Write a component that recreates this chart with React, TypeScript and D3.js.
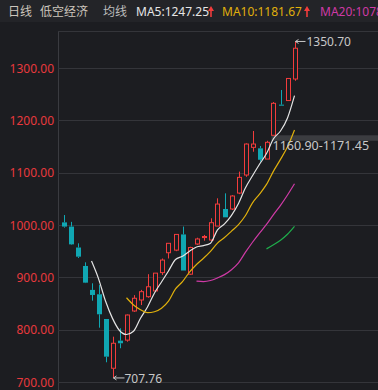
import React from "react";
import * as d3 from "d3";

const opens = [1005, 997, 957, 921.7, 876, 867.6, 820.4, 726.3, 779, 780, 835.7, 856.7, 863, 874, 909, 947, 952, 982, 906, 963.7, 976, 971.3, 998, 1030.6, 1030.6, 1061, 1095.5, 1148.4, 1146.5, 1126, 1171.45, 1230, 1237.8, 1279];
const highs = [1019, 1006, 965, 928.7, 888.6, 885.4, 820.4, 786.6, 802.7, 829, 866, 876, 906, 908, 936, 965, 982, 997, 958.5, 975.7, 981, 1012.8, 1051, 1060.5, 1057, 1102, 1156, 1179.6, 1151, 1160.9, 1235, 1258, 1280, 1350.7];
const lows = [995, 962, 937, 889, 855.4, 803.8, 737.7, 707.76, 764.5, 777, 834, 847, 861, 873, 904.5, 936, 950, 913, 904.5, 962, 970, 969.4, 998, 1014.7, 1028.6, 1059, 1092, 1140, 1121, 1126, 1171.45, 1228, 1237, 1275.6];
const closes = [997, 963, 939.5, 889.8, 866.3, 829.4, 748.4, 774, 774, 828, 860, 872.6, 882, 908, 933, 965, 982, 913, 957, 973.3, 978, 1004.4, 1040, 1014.7, 1055.4, 1091, 1154.7, 1154.7, 1124.65, 1158, 1232.5, 1228, 1280, 1337.75];
const yTicks = [700, 800, 900, 1000, 1100, 1200, 1300];
const maPeriods = [5, 10, 20, 30];
const maColors = ["#e4e4e4", "#e0b00c", "#cf3aa6", "#1fae4c"];
const gapLow = 1160.9;
const gapHigh = 1171.45;
const gapLabel = "1160.90-1171.45";
const maxLabel = "1350.70";
const minLabel = "707.76";

const W = 378;
const H = 390;
const RED = "#f23c3c";
const TEAL = "#10a7b3";
const FONT = "'Noto Sans', 'Noto Sans CJK SC', sans-serif";

export default function App() {
  const n = closes.length;
  const x = d3.scaleLinear().domain([0, n - 1]).range([63.5, 294.5]);
  const y = d3.scaleLinear().domain([700, 1300]).range([382, 68]);

  const ma = (p: number) =>
    closes.map((_, i) => (i < p - 1 ? null : d3.mean(closes.slice(i - p + 1, i + 1)) as number));

  const line = d3
    .line<number | null>()
    .defined((d) => d !== null)
    .x((_, i) => x(i))
    .y((d) => y(d as number))
    .curve(d3.curveMonotoneX);

  const maVals = maPeriods.map((p) => ma(p));
  const last = (arr: (number | null)[]) => arr[arr.length - 1] as number;

  const iMax = highs.indexOf(d3.max(highs) as number);
  const iMin = lows.indexOf(d3.min(lows) as number);
  const iGap = 30;

  const arrowUp = (cx: number) => (
    <g>
      <line x1={cx} x2={cx} y1={17} y2={9} stroke={RED} strokeWidth={1.6} />
      <path d={`M${cx - 3},${11} L${cx},${6} L${cx + 3},${11} Z`} fill={RED} />
    </g>
  );

  return (
    <svg
      width={W}
      height={H}
      style={{ position: "absolute", left: 0, top: 0, background: "#1c1d21" }}
      fontFamily={FONT}
    >
      <rect x={0} y={0} width={W} height={22} fill="#232428" />
      {/* header */}
      <text x={8} y={16} fontSize={12} fill="#cdc6bd">日线</text>
      <text x={40} y={16} fontSize={12} fill="#cdc6bd">低空经济</text>
      <text x={103} y={16} fontSize={12} fill="#bdbdbd">均线</text>
      <text x={136} y={16} fontSize={12} fill="#e6e6e6">{`MA5:${last(maVals[0]).toFixed(2)}`}</text>
      {arrowUp(211)}
      <text x={222} y={16} fontSize={12} fill="#e0b00c">{`MA10:${last(maVals[1]).toFixed(2)}`}</text>
      {arrowUp(307)}
      <text x={320} y={16} fontSize={12} fill="#cf3aa6">{`MA20:${last(maVals[2]).toFixed(2)}`}</text>

      {/* frame */}
      <line x1={58.5} x2={58.5} y1={31} y2={H} stroke="#3a3b40" />
      <line x1={58} x2={W} y1={31.5} y2={31.5} stroke="#34353a" />
      {yTicks.map((t) => (
        <g key={t}>
          <line x1={58} x2={W} y1={Math.round(y(t)) + 0.5} y2={Math.round(y(t)) + 0.5} stroke="#34353a" />
          <text x={54} y={y(t) + 4.5} fontSize={12} textAnchor="end" fill="#e8393d">
            {t.toFixed(2)}
          </text>
        </g>
      ))}

      {/* gap band */}
      <rect x={x(iGap) - 2} y={y(gapHigh)} width={W - x(iGap) + 2} height={y(gapLow) - y(gapHigh)} fill="#3b3c40" />

      {/* candles */}
      {closes.map((c, i) => {
        const o = opens[i];
        const up = c >= o;
        const col = up ? RED : TEAL;
        const cx = Math.round(x(i)) + 0.5;
        const top = y(Math.max(o, c));
        const bot = y(Math.min(o, c));
        const h = Math.max(bot - top, 1);
        return (
          <g key={i}>
            <line x1={cx} x2={cx} y1={y(highs[i])} y2={top} stroke={col} />
            <line x1={cx} x2={cx} y1={top + h} y2={y(lows[i])} stroke={col} />
            {up ? (
              <rect x={cx - 2} y={top} width={4} height={h} fill="#1c1d21" stroke={col} strokeWidth={1} />
            ) : (
              <rect x={cx - 2.5} y={top} width={5} height={h} fill={col} />
            )}
          </g>
        );
      })}

      {/* MA lines */}
      {maVals.map((vals, k) => (
        <path key={k} d={line(vals) || ""} fill="none" stroke={maColors[k]} strokeWidth={1.2} />
      ))}

      {/* annotations */}
      <g stroke="#c8c8c8" fill="none" strokeWidth={1}>
        <line x1={x(iMax) + 1} x2={x(iMax) + 11} y1={y(highs[iMax])} y2={y(highs[iMax])} />
        <path d={`M${x(iMax) + 4},${y(highs[iMax]) - 2} L${x(iMax) + 1},${y(highs[iMax])} L${x(iMax) + 4},${y(highs[iMax]) + 2}`} />
        <line x1={x(iMin) + 1} x2={x(iMin) + 12} y1={y(lows[iMin])} y2={y(lows[iMin])} />
        <path d={`M${x(iMin) + 4},${y(lows[iMin]) - 2} L${x(iMin) + 1},${y(lows[iMin])} L${x(iMin) + 4},${y(lows[iMin]) + 2}`} />
      </g>
      <text x={x(iMax) + 12} y={y(highs[iMax]) + 4.5} fontSize={12} fill="#c8c8c8">{maxLabel}</text>
      <text x={x(iMin) + 12} y={y(lows[iMin]) + 5} fontSize={12} fill="#c8c8c8">{minLabel}</text>
      <text x={x(iGap) - 1} y={y((gapLow + gapHigh) / 2) + 12} fontSize={12.5} fill="#c8c8c8">{gapLabel}</text>
    </svg>
  );
}
